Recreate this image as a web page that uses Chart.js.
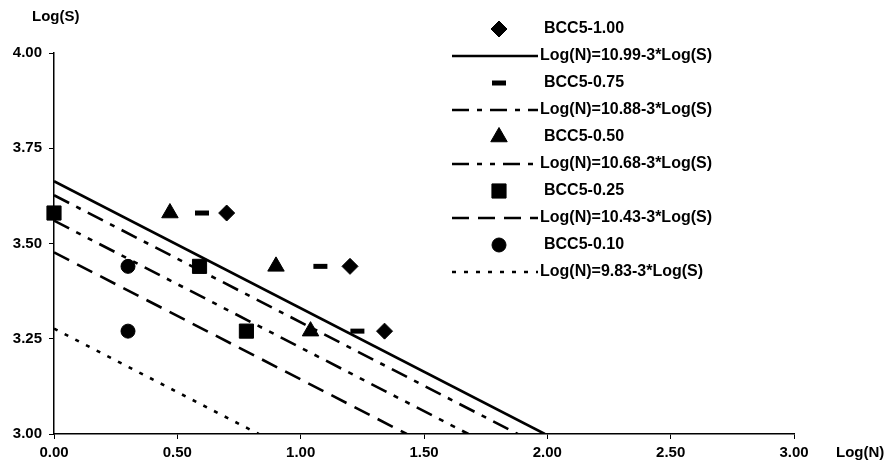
<!DOCTYPE html>
<html>
<head>
<meta charset="utf-8">
<title>Log(S) - Log(N)</title>
<style>
    html, body { margin: 0; padding: 0; background: #fff; }
</style>
<script src="https://cdn.jsdelivr.net/npm/chart.js"></script>
</head>
<body>
<canvas id="myChart" width="886" height="471"></canvas>
<script>
// names of the test series, legend order
const seriesNames = ['BCC5-1.00', 'BCC5-0.75', 'BCC5-0.50', 'BCC5-0.25', 'BCC5-0.10'];

// Log(N), one array per series
const logN_100 = [0.70, 1.20, 1.34],
    logN_075 = [0.60, 1.08, 1.23],
    logN_050 = [0.47, 0.90, 1.04],
    logN_025 = [0.00, 0.59, 0.78],
    logN_010 = [0.30, 0.30];

// Log(S) levels of the tests
const logS_levels = [3.58, 3.44, 3.27],
    logS_010 = [3.44, 3.27];

// fitted lines Log(N) = a - 3*Log(S)
const intercepts = [10.99, 10.88, 10.68, 10.43, 9.83],
    slope = 3;

// tick labels
const xTicks = [0.00, 0.50, 1.00, 1.50, 2.00, 2.50, 3.00],
    yTicks = [3.00, 3.25, 3.50, 3.75, 4.00];

const seriesX = [logN_100, logN_075, logN_050, logN_025, logN_010],
    seriesY = [logS_levels, logS_levels, logS_levels, logS_levels, logS_010];

// marker look for every series
const markers = [
    { pointStyle: 'rectRot', pointRadius: 8, borderWidth: 1 },
    { pointStyle: 'line', pointRadius: 7, borderWidth: 5 },
    { pointStyle: 'triangle', pointRadius: 9.5, borderWidth: 1 },
    { pointStyle: 'rect', pointRadius: 10, borderWidth: 1 },
    { pointStyle: 'circle', pointRadius: 7, borderWidth: 1 }
];

// dash pattern for every fitted line
const dashes = [
    [],
    [17, 8, 5, 8],
    [17, 8, 5, 8, 5, 8],
    [17, 9],
    [4, 8]
];

const font = '"Liberation Sans", Arial, sans-serif';

// build the datasets, marker then its fitted line
function buildDatasets() {
    const datasets = [];
    const yMin = yTicks[0];
    for (let i = 0; i < seriesNames.length; i++) {
        datasets.push({
            label: seriesNames[i],
            data: seriesX[i].map((x, j) => ({ x: x, y: seriesY[i][j] })),
            showLine: false,
            clip: false,
            backgroundColor: '#000',
            borderColor: '#000',
            pointStyle: markers[i].pointStyle,
            pointRadius: markers[i].pointRadius,
            pointHoverRadius: markers[i].pointRadius,
            borderWidth: markers[i].borderWidth,
            pointBorderWidth: markers[i].borderWidth
        });
        const a = intercepts[i];
        datasets.push({
            label: `Log(N)=${a.toFixed(2)}-3*Log(S)`,
            // from the Log(S) axis down to the Log(N) axis
            data: [{ x: 0, y: a / slope }, { x: a - slope * yMin, y: yMin }],
            showLine: true,
            pointRadius: 0,
            borderColor: '#000',
            borderWidth: 2.6,
            borderDash: dashes[i],
            fill: false
        });
    }
    return datasets;
}

// legend down the right side plus the two axis titles
const sideLegend = {
    id: 'sideLegend',
    afterDraw(chart) {
        const ctx = chart.ctx;
        ctx.save();
        ctx.font = `bold 16px ${font}`;
        ctx.fillStyle = '#000';
        ctx.strokeStyle = '#000';
        ctx.textBaseline = 'middle';
        ctx.textAlign = 'left';

        chart.data.datasets.forEach((ds, i) => {
            const y = 29 + 27 * i;
            if (ds.showLine) {
                ctx.save();
                ctx.lineWidth = ds.borderWidth;
                ctx.setLineDash(ds.borderDash);
                ctx.beginPath();
                ctx.moveTo(452, y);
                ctx.lineTo(538, y);
                ctx.stroke();
                ctx.restore();
                ctx.fillText(ds.label, 540, y);
            } else {
                ctx.lineWidth = ds.borderWidth;
                Chart.helpers.drawPoint(ctx, {
                    pointStyle: ds.pointStyle,
                    radius: ds.pointRadius,
                    borderWidth: ds.borderWidth,
                    rotation: 0
                }, 499, y);
                ctx.fillText(ds.label, 544, y);
            }
        });

        ctx.font = `bold 15px ${font}`;
        ctx.fillText('Log(S)', 32, 17);
        ctx.fillText('Log(N)', 836, 453);
        ctx.restore();
    }
};

const ctx = document.getElementById('myChart').getContext('2d');

new Chart(ctx, {
    type: 'scatter',
    data: { datasets: buildDatasets() },
    options: {
        responsive: false,
        animation: false,
        devicePixelRatio: 1,
        layout: { padding: { left: 0, top: 53, right: 92, bottom: 0 } },
        plugins: {
            legend: { display: false },
            tooltip: { enabled: false }
        },
        scales: {
            x: {
                type: 'linear',
                min: xTicks[0],
                max: xTicks[xTicks.length - 1],
                afterBuildTicks: (scale) => { scale.ticks = xTicks.map(v => ({ value: v })); },
                afterFit: (scale) => { scale.height = 37; },
                ticks: {
                    color: '#000',
                    padding: 5,
                    maxRotation: 0,
                    font: { family: font, size: 15, weight: 'bold' },
                    callback: (v) => Number(v).toFixed(2)
                },
                grid: { drawOnChartArea: false, drawTicks: true, tickLength: 5, color: '#000', lineWidth: 1 },
                border: { display: true, color: '#000', width: 1.5 }
            },
            y: {
                type: 'linear',
                min: yTicks[0],
                max: yTicks[yTicks.length - 1],
                afterBuildTicks: (scale) => { scale.ticks = yTicks.map(v => ({ value: v })); },
                afterFit: (scale) => { scale.width = 54; },
                ticks: {
                    color: '#000',
                    padding: 7,
                    font: { family: font, size: 15, weight: 'bold' },
                    callback: (v) => Number(v).toFixed(2)
                },
                grid: { drawOnChartArea: false, drawTicks: true, tickLength: 5, color: '#000', lineWidth: 1 },
                border: { display: true, color: '#000', width: 1.5 }
            }
        }
    },
    plugins: [sideLegend]
});
</script>
</body>
</html>
